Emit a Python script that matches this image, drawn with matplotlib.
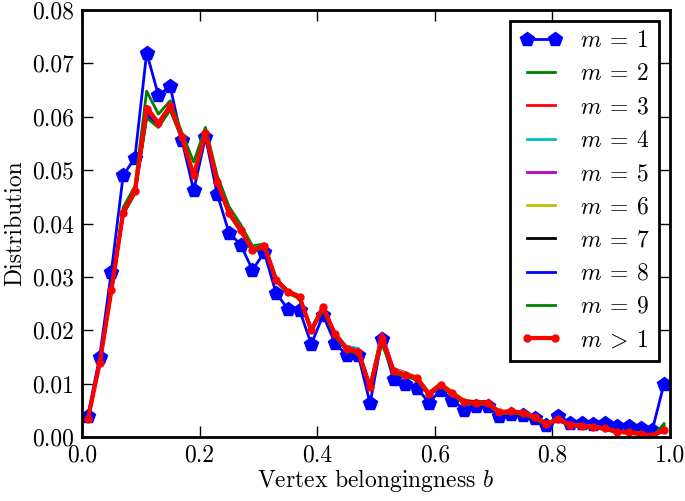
import numpy as np
import matplotlib
matplotlib.use('Agg')
import matplotlib.pyplot as plt

plt.rcParams['font.family'] = 'serif'
plt.rcParams['font.serif'] = ['cmr10']
plt.rcParams['mathtext.fontset'] = 'cm'
plt.rcParams['axes.formatter.use_mathtext'] = True
plt.rcParams['axes.unicode_minus'] = False

# bin centres of vertex belongingness
b = np.arange(0.01, 1.0, 0.02)

m1 = [0.0040, 0.0150, 0.0310, 0.0490, 0.0523, 0.0720, 0.0640, 0.0657, 0.0556, 0.0462,
      0.0562, 0.0455, 0.0383, 0.0360, 0.0313, 0.0346, 0.0270, 0.0240, 0.0238, 0.0174,
      0.0228, 0.0177, 0.0153, 0.0153, 0.0063, 0.0183, 0.0108, 0.0100, 0.0092, 0.0064,
      0.0088, 0.0070, 0.0051, 0.0059, 0.0058, 0.0040, 0.0044, 0.0041, 0.0036, 0.0022,
      0.0040, 0.0027, 0.0027, 0.0024, 0.0026, 0.0020, 0.0020, 0.0017, 0.0013, 0.0100]

m2 = [0.0034, 0.0140, 0.0280, 0.0430, 0.0470, 0.0648, 0.0605, 0.0630, 0.0570, 0.0515,
      0.0580, 0.0490, 0.0432, 0.0398, 0.0358, 0.0362, 0.0298, 0.0270, 0.0260, 0.0198,
      0.0238, 0.0190, 0.0162, 0.0158, 0.0090, 0.0175, 0.0120, 0.0114, 0.0107, 0.0078,
      0.0096, 0.0080, 0.0064, 0.0062, 0.0062, 0.0044, 0.0046, 0.0043, 0.0035, 0.0024,
      0.0032, 0.0022, 0.0020, 0.0018, 0.0015, 0.0009, 0.0008, 0.0005, 0.0001, 0.0022]

m3 = [0.0033, 0.0138, 0.0276, 0.0421, 0.0462, 0.0620, 0.0590, 0.0622, 0.0563, 0.0492,
      0.0571, 0.0480, 0.0421, 0.0389, 0.0351, 0.0358, 0.0296, 0.0273, 0.0263, 0.0201,
      0.0244, 0.0194, 0.0166, 0.0161, 0.0094, 0.0186, 0.0124, 0.0118, 0.0111, 0.0082,
      0.0099, 0.0083, 0.0067, 0.0065, 0.0065, 0.0047, 0.0049, 0.0046, 0.0038, 0.0026,
      0.0034, 0.0024, 0.0022, 0.0020, 0.0017, 0.0011, 0.0010, 0.0007, 0.0003, 0.0015]

m4 = [0.0033, 0.0137, 0.0274, 0.0419, 0.0459, 0.0612, 0.0586, 0.0618, 0.0561, 0.0488,
      0.0568, 0.0477, 0.0419, 0.0387, 0.0349, 0.0357, 0.0295, 0.0273, 0.0264, 0.0202,
      0.0245, 0.0196, 0.0170, 0.0166, 0.0095, 0.0190, 0.0125, 0.0119, 0.0111, 0.0082,
      0.0099, 0.0083, 0.0067, 0.0065, 0.0065, 0.0047, 0.0048, 0.0045, 0.0037, 0.0025,
      0.0033, 0.0023, 0.0021, 0.0019, 0.0016, 0.0010, 0.0009, 0.0006, 0.0002, 0.0013]

m5 = [0.0033, 0.0138, 0.0274, 0.0419, 0.0458, 0.0610, 0.0585, 0.0617, 0.0560, 0.0487,
      0.0567, 0.0478, 0.0421, 0.0390, 0.0352, 0.0359, 0.0297, 0.0274, 0.0264, 0.0202,
      0.0246, 0.0195, 0.0168, 0.0163, 0.0096, 0.0195, 0.0128, 0.0121, 0.0112, 0.0083,
      0.0100, 0.0084, 0.0068, 0.0066, 0.0066, 0.0048, 0.0049, 0.0046, 0.0038, 0.0026,
      0.0034, 0.0024, 0.0022, 0.0020, 0.0017, 0.0011, 0.0010, 0.0007, 0.0003, 0.0014]

m6 = [0.0033, 0.0138, 0.0275, 0.0420, 0.0460, 0.0608, 0.0584, 0.0616, 0.0560, 0.0489,
      0.0568, 0.0479, 0.0422, 0.0391, 0.0353, 0.0360, 0.0298, 0.0275, 0.0265, 0.0203,
      0.0245, 0.0195, 0.0167, 0.0162, 0.0095, 0.0188, 0.0126, 0.0120, 0.0113, 0.0084,
      0.0101, 0.0085, 0.0069, 0.0067, 0.0067, 0.0049, 0.0050, 0.0047, 0.0039, 0.0027,
      0.0034, 0.0024, 0.0022, 0.0020, 0.0017, 0.0011, 0.0010, 0.0007, 0.0003, 0.0013]

m7 = [0.0033, 0.0137, 0.0273, 0.0418, 0.0457, 0.0600, 0.0582, 0.0614, 0.0559, 0.0488,
      0.0567, 0.0478, 0.0421, 0.0390, 0.0352, 0.0359, 0.0296, 0.0274, 0.0264, 0.0201,
      0.0243, 0.0194, 0.0166, 0.0161, 0.0094, 0.0185, 0.0124, 0.0118, 0.0111, 0.0082,
      0.0099, 0.0083, 0.0068, 0.0066, 0.0066, 0.0047, 0.0049, 0.0046, 0.0038, 0.0026,
      0.0033, 0.0023, 0.0021, 0.0019, 0.0016, 0.0010, 0.0009, 0.0006, 0.0002, 0.0013]

m8 = [0.0033, 0.0138, 0.0274, 0.0419, 0.0459, 0.0605, 0.0583, 0.0615, 0.0560, 0.0488,
      0.0566, 0.0476, 0.0418, 0.0386, 0.0348, 0.0356, 0.0294, 0.0271, 0.0261, 0.0199,
      0.0242, 0.0192, 0.0164, 0.0159, 0.0092, 0.0184, 0.0122, 0.0116, 0.0109, 0.0080,
      0.0097, 0.0081, 0.0065, 0.0063, 0.0063, 0.0045, 0.0047, 0.0044, 0.0036, 0.0024,
      0.0032, 0.0022, 0.0020, 0.0018, 0.0015, 0.0009, 0.0008, 0.0005, 0.0001, 0.0012]

m9 = [0.0033, 0.0137, 0.0272, 0.0417, 0.0456, 0.0598, 0.0580, 0.0613, 0.0558, 0.0486,
      0.0565, 0.0475, 0.0417, 0.0385, 0.0347, 0.0355, 0.0292, 0.0270, 0.0259, 0.0197,
      0.0240, 0.0190, 0.0162, 0.0157, 0.0090, 0.0176, 0.0120, 0.0114, 0.0107, 0.0078,
      0.0095, 0.0079, 0.0063, 0.0061, 0.0061, 0.0043, 0.0045, 0.0042, 0.0034, 0.0022,
      0.0031, 0.0021, 0.0019, 0.0017, 0.0014, 0.0008, 0.0007, 0.0004, 0.0000, 0.0025]

m_all = [0.0033, 0.0138, 0.0275, 0.0420, 0.0460, 0.0615, 0.0588, 0.0620, 0.0562, 0.0490,
         0.0570, 0.0478, 0.0420, 0.0388, 0.0350, 0.0358, 0.0295, 0.0272, 0.0262, 0.0200,
         0.0243, 0.0193, 0.0165, 0.0160, 0.0093, 0.0185, 0.0123, 0.0117, 0.0110, 0.0081,
         0.0098, 0.0082, 0.0066, 0.0064, 0.0064, 0.0046, 0.0048, 0.0045, 0.0037, 0.0025,
         0.0033, 0.0023, 0.0021, 0.0019, 0.0016, 0.0010, 0.0009, 0.0006, 0.0002, 0.0014]

others = [m2, m3, m4, m5, m6, m7, m8, m9]
colors = ['g', 'r', 'c', 'm', 'y', 'k', 'b', 'g']

fig = plt.figure(figsize=(6.85, 5.01), dpi=100)
ax = fig.add_axes([0.1197, 0.1277, 0.8583, 0.8523])

ax.plot(b, m1, color='b', marker='p', markersize=10, markeredgecolor='b',
        lw=2, label=r'$m \:=\: 1$')
for i, (y, c) in enumerate(zip(others, colors)):
    ax.plot(b, y, color=c, lw=2, label=r'$m \:=\: %d$' % (i + 2))
ax.plot(b, m_all, color='r', marker='o', markersize=5, markeredgecolor='r',
        lw=3, label=r'$m \:>\: 1$')

ax.set_xlim(0, 1)
ax.set_ylim(0, 0.08)
ax.set_xticks([0.0, 0.2, 0.4, 0.6, 0.8, 1.0])
ax.set_yticks(np.arange(0, 0.081, 0.01))
ax.xaxis.set_major_formatter(matplotlib.ticker.FormatStrFormatter('%.1f'))
ax.yaxis.set_major_formatter(matplotlib.ticker.FormatStrFormatter('%.2f'))
ax.tick_params(direction='in', length=8, width=1, top=True, right=True,
               labelsize=17, pad=6)
ax.tick_params(axis='x', pad=5)
for s in ax.spines.values():
    s.set_linewidth(2)

ax.set_xlabel(r'Vertex belongingness $b$', fontsize=17, labelpad=1)
ax.set_ylabel('Distribution', fontsize=17, labelpad=4)

leg = ax.legend(loc='upper right', fontsize=17, fancybox=False, framealpha=1,
                numpoints=2, handlelength=1.8, handletextpad=0.75,
                borderaxespad=0.45, labelspacing=0.47, borderpad=0.4)
leg.get_frame().set_edgecolor('k')
leg.get_frame().set_linewidth(2)

fig.savefig('out.png', dpi=100)
